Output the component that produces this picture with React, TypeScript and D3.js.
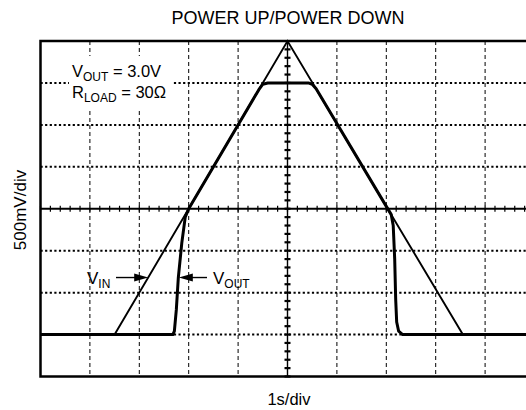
import { useEffect, useRef } from "react";
import * as d3 from "d3";

// scope screen: 10 div x 1 s, 8 div x 500 mV (0 V sits one div above the bottom)
const timeDomain = [0, 10];
const voltDomain = [-0.5, 3.5];
const vGrid = [1, 2, 3, 4, 6, 7, 8, 9];
const hGrid = [0, 0.5, 1.0, 2.0, 2.5, 3.0];

// V_IN ramp
const vinT = [0, 1.5, 5.0, 8.55, 10];
const vinV = [0, 0, 3.5, 0, 0];

// V_OUT trace
const voutT = [0, 2.68, 2.71, 2.75, 2.79, 2.86, 2.93, 3.0, 4.42, 4.5, 4.6, 5.42, 5.5, 5.58, 7.1, 7.14, 7.17, 7.19, 7.21, 7.25, 7.33, 10];
const voutV = [0, 0, 0.04, 0.3, 0.68, 1.09, 1.4, 1.5, 2.92, 2.985, 3.0, 3.0, 2.985, 2.93, 1.43, 1.3, 0.9, 0.42, 0.15, 0.04, 0, 0];

const W = 526;
const H = 410;

export default function App() {
  const svgRef = useRef(null);

  useEffect(() => {
    const svg = d3.select(svgRef.current);
    svg.selectAll("*").remove();
    svg.attr("width", W).attr("height", H);

    const font = "'Liberation Sans', Arial, sans-serif";
    const x = d3.scaleLinear().domain(timeDomain).range([40.5, 534.5]);
    const y = d3.scaleLinear().domain(voltDomain).range([376.5, 41]);

    svg.append("rect").attr("width", W).attr("height", H).attr("fill", "#fff");

    // grid
    svg
      .selectAll(".vg")
      .data(vGrid)
      .join("line")
      .attr("x1", (d) => x(d))
      .attr("x2", (d) => x(d))
      .attr("y1", y(3.5))
      .attr("y2", y(-0.5))
      .attr("stroke", "#000")
      .attr("stroke-width", 1)
      .attr("stroke-dasharray", "4 3");

    svg
      .selectAll(".hg")
      .data(hGrid)
      .join("line")
      .attr("x1", x(0))
      .attr("x2", x(10))
      .attr("y1", (d) => y(d))
      .attr("y2", (d) => y(d))
      .attr("stroke", "#000")
      .attr("stroke-width", 2)
      .attr("stroke-dasharray", "2.2 2.4");

    // center axes with minor ticks
    svg
      .append("line")
      .attr("x1", x(0))
      .attr("x2", x(10))
      .attr("y1", y(1.5))
      .attr("y2", y(1.5))
      .attr("stroke", "#000")
      .attr("stroke-width", 1.8);
    svg
      .append("line")
      .attr("x1", x(5))
      .attr("x2", x(5))
      .attr("y1", y(3.5))
      .attr("y2", y(-0.5))
      .attr("stroke", "#000")
      .attr("stroke-width", 1.4);

    const tTicks = d3.range(0, 50).map((i) => i * 0.2);
    svg
      .selectAll(".tt")
      .data(tTicks)
      .join("line")
      .attr("x1", (d) => x(d))
      .attr("x2", (d) => x(d))
      .attr("y1", y(1.5) - 3)
      .attr("y2", y(1.5) + 3)
      .attr("stroke", "#000")
      .attr("stroke-width", 1.2);

    const vTicks = d3.range(0, 40).map((i) => -0.5 + i * 0.1);
    svg
      .selectAll(".vt")
      .data(vTicks)
      .join("line")
      .attr("x1", x(5) - 3)
      .attr("x2", x(5) + 3)
      .attr("y1", (d) => y(d))
      .attr("y2", (d) => y(d))
      .attr("stroke", "#000")
      .attr("stroke-width", 2.2);

    // white box behind the settings note
    svg.append("rect").attr("x", 69).attr("y", 56).attr("width", 103).attr("height", 52).attr("fill", "#fff");

    // traces
    const vin = vinT.map((t, i) => [t, vinV[i]] as [number, number]);
    const vout = voutT.map((t, i) => [t, voutV[i]] as [number, number]);
    const line = d3
      .line<[number, number]>()
      .x((d) => x(d[0]))
      .y((d) => y(d[1]));

    svg.append("path").attr("d", line(vin)).attr("fill", "none").attr("stroke", "#000").attr("stroke-width", 1.9);
    svg
      .append("path")
      .attr("d", line(vout))
      .attr("fill", "none")
      .attr("stroke", "#000")
      .attr("stroke-width", 3)
      .attr("stroke-linejoin", "round");

    // frame
    svg
      .append("rect")
      .attr("x", x(0))
      .attr("y", y(3.5))
      .attr("width", x(10) - x(0))
      .attr("height", y(-0.5) - y(3.5))
      .attr("fill", "none")
      .attr("stroke", "#000")
      .attr("stroke-width", 2.5);

    // titles
    svg
      .append("text")
      .attr("x", 288)
      .attr("y", 24)
      .attr("text-anchor", "middle")
      .attr("font-family", font)
      .attr("font-size", 18)
      .text("POWER UP/POWER DOWN");
    svg
      .append("text")
      .attr("x", 289)
      .attr("y", 405)
      .attr("text-anchor", "middle")
      .attr("font-family", font)
      .attr("font-size", 16.5)
      .text("1s/div");
    svg
      .append("text")
      .attr("transform", "translate(26,210) rotate(-90)")
      .attr("text-anchor", "middle")
      .attr("font-family", font)
      .attr("font-size", 17)
      .text("500mV/div");

    // settings note
    const note = (ty: number, main: string, sub: string, rest: string) => {
      const t = svg.append("text").attr("x", 72).attr("y", ty).attr("font-family", font).attr("font-size", 16.5);
      t.append("tspan").text(main);
      t.append("tspan").attr("font-size", 12).attr("dy", 4).text(sub);
      t.append("tspan").attr("dy", -4).text(rest);
    };
    note(77, "V", "OUT", " = 3.0V");
    note(98, "R", "LOAD", " = 30Ω");

    // arrow labels
    const arrow = (x1: number, x2: number, yy: number) => {
      const dir = Math.sign(x2 - x1);
      svg.append("line").attr("x1", x1).attr("x2", x2 - dir * 10).attr("y1", yy).attr("y2", yy).attr("stroke", "#000").attr("stroke-width", 1.4);
      svg
        .append("path")
        .attr("d", `M${x2},${yy} L${x2 - dir * 14},${yy - 4} L${x2 - dir * 14},${yy + 4} Z`)
        .attr("fill", "#000");
    };
    const label = (lx: number, ly: number, main: string, sub: string) => {
      const t = svg.append("text").attr("x", lx).attr("y", ly).attr("font-family", font).attr("font-size", 17);
      t.append("tspan").text(main);
      t.append("tspan").attr("font-size", 12).attr("dy", 4).text(sub);
    };
    const ay = y(0.68);
    arrow(116, x(2.18), ay);
    label(87, ay + 6, "V", "IN");
    arrow(207, x(2.8), ay);
    label(213, ay + 6, "V", "OUT");
  }, []);

  return <svg ref={svgRef} style={{ position: "absolute", left: 0, top: 0 }} />;
}
